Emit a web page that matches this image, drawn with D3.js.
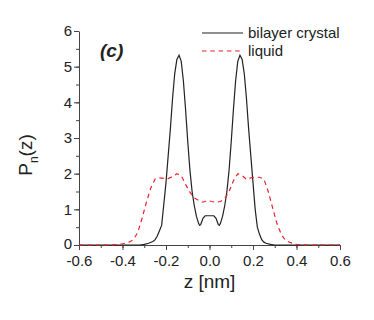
<!DOCTYPE html>
<html>
<head>
<meta charset="utf-8">
<script src="https://cdn.jsdelivr.net/npm/d3@7"></script>
<style>
  body { margin: 0; background: #fff; }
  text { font-family: Arial, "Liberation Sans", sans-serif; fill: #222; }
</style>
</head>
<body>
<div id="chart"></div>
<script>
// bilayer crystal profile, z in nm
const crystalZ = [-0.60, -0.40, -0.32, -0.30, -0.28, -0.26, -0.25, -0.24, -0.23, -0.22, -0.21, -0.20, -0.19, -0.18, -0.17, -0.16, -0.15, -0.14, -0.13, -0.12, -0.11, -0.10, -0.09, -0.08, -0.07, -0.06, -0.05, -0.045, -0.04, -0.03, -0.02, 0.00,
  0.02, 0.03, 0.04, 0.045, 0.05, 0.06, 0.07, 0.08, 0.09, 0.10, 0.11, 0.12, 0.13, 0.14, 0.15, 0.16, 0.17, 0.18, 0.19, 0.20, 0.21, 0.22, 0.23, 0.24, 0.25, 0.26, 0.28, 0.30, 0.32, 0.40, 0.60];
const crystalP = [0, 0, 0, 0.02, 0.05, 0.10, 0.15, 0.25, 0.40, 0.55, 1.15, 1.75, 2.5, 3.25, 4.1, 4.8, 5.2, 5.32, 5.15, 4.6, 3.8, 2.9, 2.1, 1.5, 1.1, 0.8, 0.6, 0.55, 0.58, 0.75, 0.82, 0.82,
  0.82, 0.75, 0.58, 0.55, 0.6, 0.8, 1.1, 1.5, 2.1, 2.9, 3.8, 4.6, 5.15, 5.32, 5.2, 4.8, 4.1, 3.25, 2.5, 1.75, 1.0, 0.5, 0.3, 0.15, 0.08, 0.05, 0.02, 0, 0, 0, 0];

// liquid profile
const liquidZ = [-0.60, -0.45, -0.40, -0.37, -0.35, -0.33, -0.31, -0.29, -0.27, -0.25, -0.23, -0.21, -0.19, -0.17, -0.15, -0.13, -0.11, -0.09, -0.07, -0.05, -0.03, -0.01, 0.01, 0.03, 0.05, 0.07, 0.09, 0.11, 0.13, 0.15, 0.17, 0.19, 0.21, 0.23, 0.25, 0.27, 0.29, 0.31, 0.33, 0.35, 0.38, 0.40, 0.45, 0.60];
const liquidP = [0, 0, 0.03, 0.08, 0.15, 0.35, 0.75, 1.2, 1.6, 1.85, 1.88, 1.87, 1.86, 1.92, 2.0, 1.95, 1.7, 1.48, 1.32, 1.25, 1.2, 1.25, 1.22, 1.2, 1.22, 1.3, 1.5, 1.8, 2.0, 1.95, 1.84, 1.88, 1.9, 1.9, 1.85, 1.5, 1.05, 0.6, 0.3, 0.12, 0.05, 0.02, 0, 0];

const xTicks = [-0.6, -0.4, -0.2, 0.0, 0.2, 0.4, 0.6];
const yTicks = [0, 1, 2, 3, 4, 5, 6];
const seriesNames = ["bilayer crystal", "liquid"];

const width = 374, height = 320;
const margin = {top: 31, right: 34, bottom: 75, left: 79};

const svg = d3.select("#chart").append("svg")
  .attr("width", width)
  .attr("height", height);

const x = d3.scaleLinear().domain([-0.6, 0.6]).range([margin.left, width - margin.right]);
const y = d3.scaleLinear().domain([0, 6]).range([height - margin.bottom, margin.top]);

const axisColor = "#444";
const red = "#e8232b";

// minor ticks
const xMinor = d3.range(-0.6, 0.61, 0.1).map(v => +v.toFixed(2));
const yMinor = d3.range(0, 6.01, 0.5);

svg.append("g")
  .attr("transform", `translate(0,${y(0)})`)
  .call(d3.axisBottom(x).tickValues(xMinor).tickSize(3).tickFormat(""))
  .call(g => g.select(".domain").remove())
  .selectAll("line").attr("stroke", axisColor);

svg.append("g")
  .attr("transform", `translate(${x(-0.6)},0)`)
  .call(d3.axisLeft(y).tickValues(yMinor).tickSize(3).tickFormat(""))
  .call(g => g.select(".domain").remove())
  .selectAll("line").attr("stroke", axisColor);

const xAxis = svg.append("g")
  .attr("transform", `translate(0,${y(0)})`)
  .call(d3.axisBottom(x).tickValues(xTicks).tickSize(5).tickSizeOuter(0).tickPadding(5)
    .tickFormat(d3.format(".1f")));
xAxis.select(".domain").attr("stroke", axisColor);
xAxis.selectAll("line").attr("stroke", axisColor);
xAxis.selectAll("text").style("font-size", "15px").attr("fill", "#222")
  .text(d => d3.format(".1f")(d).replace("−", "-"));

const yAxis = svg.append("g")
  .attr("transform", `translate(${x(-0.6)},0)`)
  .call(d3.axisLeft(y).tickValues(yTicks).tickSize(5).tickSizeOuter(0).tickPadding(2)
    .tickFormat(d3.format("d")));
yAxis.select(".domain").attr("stroke", axisColor);
yAxis.selectAll("line").attr("stroke", axisColor);
yAxis.selectAll("text").style("font-size", "15px").attr("fill", "#222")
  .attr("dy", d => d === 0 ? "0.25em" : "0.32em");

// lines
const line = d3.line().x(d => x(d[0])).y(d => y(d[1]));

svg.append("path")
  .datum(d3.zip(crystalZ, crystalP))
  .attr("fill", "none")
  .attr("stroke", "#222")
  .attr("stroke-width", 1.2)
  .attr("d", line);

svg.append("path")
  .datum(d3.zip(liquidZ, liquidP))
  .attr("fill", "none")
  .attr("stroke", red)
  .attr("stroke-width", 1.2)
  .attr("stroke-dasharray", "4.5,3.8")
  .attr("d", line);

// axis titles
svg.append("text")
  .attr("x", x(0))
  .attr("y", 288)
  .attr("text-anchor", "middle")
  .style("font-size", "19px")
  .text("z [nm]");

const yl = svg.append("text")
  .attr("transform", `translate(32,155) rotate(-90)`)
  .attr("text-anchor", "middle")
  .style("font-size", "19px");
yl.append("tspan").text("P");
yl.append("tspan").attr("dy", 6).style("font-size", "12px").text("n");
yl.append("tspan").attr("dy", -6).text("(z)");

// panel label
svg.append("text")
  .attr("x", 100)
  .attr("y", 57)
  .style("font-size", "19px")
  .style("font-weight", "bold")
  .style("font-style", "italic")
  .text("(c)");

// legend
const legend = svg.append("g");
seriesNames.forEach((name, i) => {
  const ly = 33 + i * 18;
  legend.append("line")
    .attr("x1", 202).attr("x2", 243)
    .attr("y1", ly).attr("y2", ly)
    .attr("stroke", i === 0 ? "#222" : red)
    .attr("stroke-width", 1.2)
    .attr("stroke-dasharray", i === 0 ? null : "4.5,3.8");
  legend.append("text")
    .attr("x", 248)
    .attr("y", ly + 5)
    .style("font-size", "15px")
    .text(name);
});
</script>
</body>
</html>
